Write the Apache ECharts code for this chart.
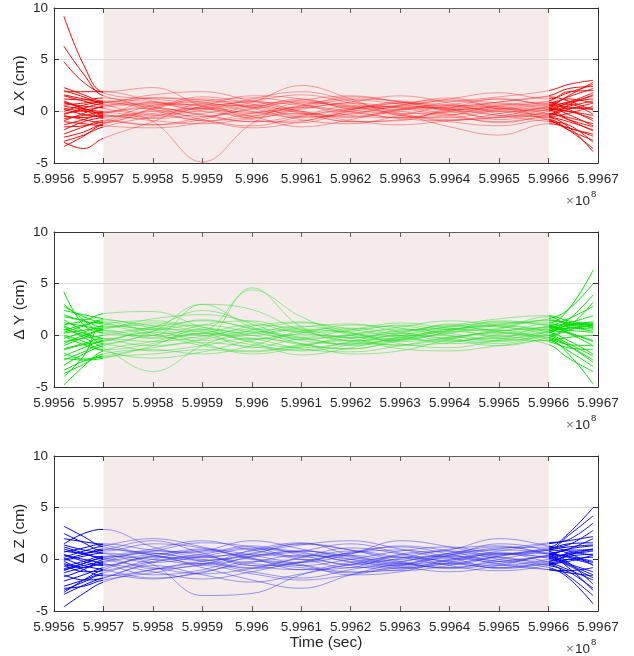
<!DOCTYPE html>
<html>
<head>
<meta charset="utf-8">
<script src="https://cdn.jsdelivr.net/npm/echarts@6/dist/echarts.min.js"></script>
<style>html,body{margin:0;padding:0;background:#fff}#c{width:634px;height:656px}</style>
</head>
<body>
<div id="c"></div>
<script>
// sample times (seconds)
const times = [599562000, 599566000, 599570000, 599580000, 599590000, 599600000, 599610000, 599620000, 599630000, 599640000, 599650000, 599660000, 599664000, 599669000];
const xTicks = [599560000, 599670000, 10000];
const fitStart = 599570000, fitEnd = 599660000;
const yLabels = ['Δ X (cm)', 'Δ Y (cm)', 'Δ Z (cm)'];

const dX = [
 [9.2, 4.5, 1.8, 1.2, 0.8, 0.5, 1.0, 0.6, 0.2, 0.4, 0.9, 1.5, 2.2, 2.4],
 [6.3, 3.6, 1.5, 0.9, 0.3, -0.2, 0.4, 1.1, 0.7, 0.1, 0.5, 1.0, 1.9, 2.0],
 [4.8, 2.8, 1.9, 2.3, 0.5, -0.6, 0.2, 0.8, 0.3, -0.3, 0.2, 0.6, 0.9, 1.8],
 [2.3, 1.6, 0.9, 0.4, -0.8, -1.4, -0.5, 0.3, 0.5, 0.2, -0.4, -0.6, -1.5, -3.9],
 [1.9, 1.9, 1.9, 1.0, 0.2, 0.9, 2.5, 1.2, -0.4, -0.6, 0.1, 0.4, 0.9, 1.2],
 [1.5, 1.0, 0.6, 1.3, 1.1, 0.4, -0.3, 0.2, 0.8, 0.6, 0.0, 0.1, -0.8, -1.9],
 [0.8, 0.5, 0.3, -1.0, -4.9, -1.2, 0.8, 0.5, -0.2, -0.1, 0.3, 0.8, 1.2, 0.8],
 [0.5, 0.2, 0.0, 0.6, 1.0, 1.3, 0.7, -0.4, -0.6, 0.1, 0.7, 0.2, 0.0, -0.4],
 [0.2, -0.3, -0.5, 0.0, 0.3, -0.5, -1.5, -0.8, 0.2, 0.6, 0.3, -0.2, -0.6, -1.2],
 [-0.2, 0.1, 0.4, 0.7, 0.0, -0.4, 0.3, 0.9, 1.5, 0.8, -0.2, -0.5, -0.2, 0.5],
 [-0.5, -0.6, -0.4, -0.9, -1.2, -0.7, -0.2, -0.9, -1.3, -0.9, -0.6, 0.2, 0.8, 1.5],
 [-0.9, -0.2, 0.5, 0.8, 0.6, 1.0, 1.6, 0.8, 0.0, -0.5, -1.0, -0.6, -1.0, -1.8],
 [-1.3, -0.8, -0.2, 0.3, -0.3, -1.0, -0.4, 0.5, 0.4, -0.3, -1.1, -0.3, 0.3, 0.2],
 [-1.8, -1.0, -0.6, -0.2, 0.4, 0.9, 0.6, 0.0, -0.7, -0.9, -0.2, 0.5, 1.5, 2.8],
 [-2.2, -1.5, -0.9, -1.3, -0.6, 0.2, 0.9, 0.4, -0.3, -1.5, -2.3, -1.2, -1.6, -2.4],
 [-2.9, -2.3, -1.5, -0.5, 0.3, 0.6, -0.2, -1.0, -0.8, 0.0, 0.6, 0.9, 0.2, -0.9],
 [-3.0, -3.6, -2.6, -1.0, 0.8, 1.0, 0.0, -0.5, 0.2, 0.4, 0.0, -0.8, -1.8, -2.8],
 [-3.4, -2.4, -1.2, 0.2, 1.2, 0.3, -0.8, -1.2, -0.4, 0.6, 1.2, 0.6, 0.4, 0.3],
 [0.3, 0.0, -0.1, 0.9, 0.5, -0.1, 0.5, 1.4, 0.9, 0.2, 0.3, 0.1, 0.5, 1.0],
 [1.2, 1.1, 1.3, 0.2, -0.5, 0.3, 1.2, 0.3, 0.5, 1.2, 1.8, 1.2, 1.8, 2.6],
 [-1.0, -1.2, -1.4, -1.6, -1.1, -0.2, 0.4, -0.1, -0.6, -0.4, 0.5, -0.9, -1.6, -2.2],
 [0.6, 0.8, 1.0, 0.5, -0.4, -1.0, -0.9, 0.2, 0.8, 1.1, 0.8, 0.4, -0.3, -1.4],
 [-0.3, 0.3, 0.8, 1.3, 0.9, 0.0, -0.6, -0.2, 0.4, 0.3, -0.4, -1.0, -1.3, -3.0],
 [1.0, 0.3, -0.3, -0.7, -0.2, 0.6, 1.1, 1.5, 0.9, 0.2, -0.8, 0.0, 0.7, -0.3],
 [1.6, 1.2, 0.9, 1.6, 1.9, 1.0, 0.0, -0.6, 0.1, 0.9, 1.4, 2.0, 2.6, 3.0],
 [-0.7, -0.4, -0.1, -0.6, 0.5, 1.5, 1.2, 0.2, -0.4, -1.0, -1.4, -0.8, -1.8, -3.6],
 [0.0, 0.6, 0.9, 0.1, -0.9, -0.5, 0.6, 1.2, 1.0, 0.5, 0.9, 1.4, 1.0, 0.1],
 [-1.5, -1.4, -1.0, 0.5, 0.7, -0.8, -1.1, 0.1, 0.9, 0.0, -0.6, -0.2, -0.8, -1.5],
 [2.0, 1.4, 0.7, -0.3, 0.1, 1.2, 1.9, 1.0, -0.2, -0.8, -0.5, 0.3, 0.0, -0.7],
 [-2.5, -2.0, -1.2, -0.4, -0.9, -1.6, -1.0, 0.0, 0.6, 1.0, 0.4, -0.4, 0.6, 1.6],
 [0.9, 0.2, -0.7, -1.3, -0.8, 0.4, -0.1, -1.0, -0.9, 0.3, 1.2, 0.7, 1.4, 2.2],
 [-0.4, -0.8, -1.1, 0.3, 1.4, 0.7, -0.5, -0.3, 0.6, 1.3, 0.2, -0.3, 0.2, 0.8]
];
const dY = [
 [4.2, 1.0, 0.3, 0.8, 1.4, 0.7, -0.3, 0.0, 0.4, 0.8, 1.3, 1.2, 2.5, 6.3],
 [2.8, 1.8, 1.2, 0.5, -0.3, 4.6, 0.8, -0.5, -0.2, 0.6, 1.0, 1.6, 2.5, 5.0],
 [2.0, 1.5, 2.1, 2.3, 0.8, 0.0, 0.6, 0.2, -0.6, -0.2, 0.4, 0.9, 1.6, 2.8],
 [1.5, 0.4, -0.8, 0.4, 3.0, 2.5, 0.5, -0.2, 0.3, 1.0, 0.5, 0.8, 1.2, 1.9],
 [1.0, 1.3, 1.1, 0.6, 1.5, 0.6, -0.8, -1.3, -0.4, 0.5, 1.0, 0.5, 0.2, -0.6],
 [0.8, -0.2, -1.2, -3.5, -1.0, 0.5, 1.2, 0.6, -0.2, -0.6, 0.1, 0.7, 1.1, 1.1],
 [0.5, 1.0, 1.3, 0.2, -1.0, -1.5, -0.9, -0.3, 0.2, -0.4, -1.0, -0.2, 0.5, 1.0],
 [0.2, 0.5, 0.7, 1.2, 0.6, -0.4, 0.2, 1.0, 0.7, -0.1, -0.3, 0.4, 1.0, 1.3],
 [-0.3, 0.3, 0.9, 0.0, -0.5, 0.2, 0.9, 0.2, -0.8, -1.2, -0.5, 0.0, -0.8, -2.0],
 [-0.6, -0.3, 0.0, 0.8, 2.4, 1.1, -0.5, -0.8, -0.3, 0.5, 1.2, 1.0, 0.3, -0.5],
 [-1.0, -0.2, 0.6, 1.0, 0.5, 4.4, 1.8, 0.0, -0.5, 0.3, 0.7, 1.8, 1.0, 0.8],
 [-1.3, -0.8, -0.3, -0.6, -0.1, 0.6, 0.3, -0.6, -0.9, -0.3, 0.6, 1.5, 1.2, 0.9],
 [-1.7, -2.3, -2.0, -1.2, -0.7, -1.1, -1.5, -0.9, 0.2, 0.9, 0.3, -0.4, -1.5, -3.0],
 [-2.0, -1.2, -0.5, 0.4, 1.0, 0.3, -0.4, 0.1, 0.8, 1.4, 0.9, 0.0, -1.0, -2.6],
 [-2.4, -1.6, -0.9, -1.5, -1.0, -0.3, -0.8, -1.8, -1.5, -0.4, 0.3, -0.6, -1.2, -1.4],
 [-2.9, -1.8, -1.0, 0.0, 0.4, -0.6, -1.2, -0.7, 0.0, -0.3, -0.8, 0.2, 1.0, 1.2],
 [-3.4, -2.5, -2.1, -1.8, -1.4, -1.6, -1.0, -0.5, -1.3, -1.5, -1.0, -0.5, -1.8, -4.7],
 [-4.0, -2.0, 1.0, 1.4, 0.8, 0.2, 0.8, 1.1, 0.3, -0.5, -0.2, 0.6, 0.9, 1.1],
 [-4.8, -3.0, -1.5, -0.6, 0.2, -0.7, -1.9, -1.2, -0.2, 0.4, 0.0, 0.3, 0.7, 0.6],
 [1.2, 0.9, 0.5, -0.3, 0.2, 1.0, 0.6, -0.2, 0.0, 0.9, 1.6, 1.9, 1.4, 1.0],
 [0.0, -0.6, -1.5, -2.2, -1.6, -0.5, 0.1, -0.3, -1.0, -0.7, -0.1, -0.9, -2.2, -3.5],
 [2.4, 2.0, 1.6, 0.9, 0.0, -0.9, -1.4, -0.6, 0.5, 0.6, -0.3, -0.5, -0.2, 0.0],
 [-0.8, 0.0, 0.5, -0.2, 1.0, 1.4, 0.4, 0.6, 1.2, 0.7, 0.4, 1.1, 0.8, 0.4],
 [0.6, 0.0, -0.5, 0.6, 0.3, -1.2, -0.4, -1.0, -0.4, 0.2, 0.9, 0.3, -0.5, -1.8],
 [1.8, 1.4, 0.8, 1.6, 2.0, 1.3, 0.3, 0.4, 1.0, 0.6, 1.1, 1.4, 1.2, 0.7],
 [-1.4, -0.9, -0.6, 0.3, -0.8, -1.8, -1.1, 0.0, 0.6, 0.2, -0.5, 0.0, 0.8, 3.2],
 [0.3, 0.9, 1.5, 0.7, 0.0, 0.9, 1.3, 0.3, -0.4, 0.4, 1.4, 0.9, 0.2, -1.0],
 [-2.2, -2.4, -2.2, -1.0, 0.6, 0.0, -0.9, -1.3, -0.5, 0.6, 0.5, -0.3, -0.9, -1.0],
 [0.9, 0.2, -0.3, -1.0, -0.4, 0.4, -0.2, -0.9, -0.1, 1.1, 0.8, 0.5, 0.7, 0.9],
 [3.0, 1.5, 0.2, 0.0, 3.0, 0.8, -0.2, 0.5, 0.9, 0.0, -0.6, 0.4, 1.5, 3.9],
 [-0.1, -0.9, -1.4, -0.8, 0.2, -0.3, -1.3, -1.6, -1.0, -0.2, 0.2, -0.2, -1.0, -2.4],
 [-3.7, -2.8, -1.8, -1.4, -1.8, -1.0, 0.4, 0.7, 0.0, -0.8, -0.4, 0.8, 0.5, 0.3]
];
const dZ = [
 [3.2, 2.2, 1.2, 0.6, 0.2, 0.8, 1.5, 0.9, 0.2, 0.5, 1.1, 1.2, 2.5, 5.0],
 [2.5, 1.6, 0.8, 1.5, 1.1, 0.0, -0.6, 0.0, 0.8, 1.2, 0.6, 0.9, 2.3, 4.2],
 [1.5, 2.5, 2.9, 1.2, 0.3, 0.5, 0.0, -0.8, -0.5, 0.4, 1.0, 1.6, 1.9, 3.5],
 [1.0, 0.5, 0.2, 0.8, 1.6, 1.2, 0.2, 0.6, 1.3, 0.8, -0.2, 0.4, 1.0, 1.3],
 [0.5, -0.2, -0.6, 0.3, -0.8, -2.0, -2.8, -1.5, -0.3, 0.6, 0.9, 0.5, -0.4, -1.2],
 [0.2, 0.8, 1.3, 2.0, 1.2, 0.1, -0.3, 0.5, 1.8, 1.2, 0.2, -0.2, 0.3, 0.5],
 [-0.1, 0.3, 0.6, -0.5, -3.5, -3.3, -1.5, -0.5, 0.2, -0.2, -0.6, 0.0, 0.6, 1.0],
 [-0.4, -0.8, -0.3, 0.5, 0.8, 1.8, 1.0, 0.0, -0.8, -0.4, 0.3, 1.0, 1.5, 1.6],
 [-0.7, -0.2, 0.3, 0.0, -0.5, 0.2, 0.8, 1.5, 0.6, -0.3, -0.8, -0.5, -1.6, -3.5],
 [-1.0, -0.6, -0.2, 0.8, 0.4, -0.6, -1.0, -0.3, 0.4, 0.9, 2.0, 1.3, 0.8, 0.4],
 [-1.3, -0.8, -0.5, -1.2, -1.9, -1.2, -0.2, 0.4, -0.3, -0.8, -0.2, 0.2, -0.5, -1.5],
 [-1.7, -1.0, 0.0, 0.6, -0.2, -0.8, 0.2, 1.1, 0.5, -0.6, -1.1, -0.6, 0.0, 0.2],
 [-2.1, -1.5, -0.8, 0.3, 1.0, 0.4, -0.5, -1.2, -1.0, 0.0, 0.5, 0.6, 1.0, 2.0],
 [-2.6, -2.0, -1.3, -0.2, 0.5, 1.1, 0.7, -0.3, -0.9, -0.3, 0.6, -0.3, -1.0, -2.0],
 [-3.0, -2.2, -1.5, -1.9, -1.2, -0.3, 0.4, 0.0, -0.7, -1.2, -0.6, 0.3, -0.8, -3.0],
 [-3.4, -2.5, -1.8, -0.6, -1.5, -2.2, -1.4, -0.5, 0.0, 0.3, -0.2, -0.8, -1.8, -4.3],
 [-4.6, -3.3, -2.2, -1.0, -0.2, 0.3, 0.8, 0.2, -0.5, -0.1, 0.4, 0.9, 0.6, -0.6],
 [0.8, 0.6, 0.9, 1.8, 0.6, -0.6, -0.3, 0.7, 1.2, 0.5, -0.5, -1.0, -1.1, -0.8],
 [0.0, 0.5, 1.0, 0.4, -0.1, 0.5, 1.5, 0.9, -0.2, -0.9, -0.4, 0.4, 0.9, 0.9],
 [-0.2, -1.0, -1.6, -1.0, -0.4, -1.2, -1.8, -1.0, -0.2, 0.4, 1.5, 0.8, -0.3, -2.4],
 [1.2, 0.6, 0.0, -0.8, -1.4, -0.9, 0.0, -0.6, -1.1, -0.6, 0.2, -0.4, -0.2, 0.4],
 [-0.9, -0.4, 0.2, 1.0, 1.8, 0.9, 0.3, 0.8, 0.2, -0.5, 0.3, 1.1, 1.4, 2.8],
 [0.4, 0.0, -0.4, -1.5, -1.0, 0.3, 0.8, 0.3, -0.4, 0.6, 1.2, 0.6, 0.2, -0.3],
 [-1.5, -2.0, -1.8, -0.3, 0.2, -0.4, -0.8, -1.3, -0.6, 0.1, -0.4, -1.0, -1.3, -1.6],
 [2.0, 1.7, 1.4, 0.4, -0.4, 0.6, 1.4, 1.8, 1.0, 0.2, 0.8, 1.5, 1.8, 2.2],
 [-0.5, -1.2, -1.1, 0.0, 0.9, 0.1, -1.0, -0.8, 0.5, 0.8, 0.0, -0.6, -1.2, -2.8],
 [0.7, 1.1, 1.5, 0.9, 0.7, 1.3, 0.4, -0.5, 0.1, 1.0, 1.3, 0.5, 0.3, -0.2],
 [-2.8, -2.6, -2.0, -1.3, -0.6, -1.4, -2.0, -1.5, -0.8, -0.4, -0.8, -0.2, 0.4, 1.0],
 [1.4, 0.9, 0.6, -0.3, 0.3, 1.0, 0.6, -0.2, -0.6, 0.3, 0.6, 0.1, -0.6, -1.8],
 [-1.1, -0.4, 0.1, -0.9, -0.5, 0.9, 1.6, 0.4, -0.4, -0.8, 0.0, 0.9, 1.2, 1.4],
 [0.1, -0.6, -1.0, -1.8, -1.3, -0.2, -0.6, -1.5, -1.2, -0.1, 0.5, 0.3, 0.5, 0.8],
 [-3.2, -2.0, -1.0, 0.2, 0.0, -0.9, -0.3, 0.6, 0.9, 0.2, -0.9, -0.4, 0.0, -0.5]
];

const panels = [dX, dY, dZ];
const outerColors = ['#ff0000', '#00e000', '#0000ff'];
const innerColors = ['rgba(255,30,30,0.42)', 'rgba(30,225,30,0.45)', 'rgba(40,40,245,0.45)'];
const tops = [8, 232, 456];
const H = 155;
const FONT = 'Liberation Sans, Arial, Helvetica, sans-serif';
const txt = '#262626';

const grid = [], xAxis = [], yAxis = [], series = [], visualMap = [], graphic = [];
panels.forEach((lines, p) => {
  grid.push({left: 54, width: 544, top: tops[p], height: H});
  const xBase = {gridIndex: p, type: 'value', min: xTicks[0], max: xTicks[1], interval: xTicks[2],
    axisLine: {show: true, onZero: false, lineStyle: {color: '#333', width: 1}},
    axisTick: {show: true, inside: true, length: 5, lineStyle: {color: '#333'}},
    splitLine: {show: false}};
  xAxis.push(Object.assign({}, xBase, {position: 'bottom',
    axisLabel: {show: true, margin: 9, fontSize: 13.5, color: txt, fontFamily: FONT,
      formatter: v => String(+(v / 1e8).toFixed(4))},
    name: p === 2 ? 'Time (sec)' : '', nameLocation: 'middle', nameGap: 21,
    nameTextStyle: {fontSize: 15.5, color: txt, fontFamily: FONT}}));
  xAxis.push(Object.assign({}, xBase, {position: 'top', axisLabel: {show: false}}));
  const yBase = {gridIndex: p, type: 'value', min: -5, max: 10, interval: 5,
    axisLine: {show: true, onZero: false, lineStyle: {color: '#333', width: 1}},
    axisTick: {show: true, inside: true, length: 5, lineStyle: {color: '#333'}}};
  yAxis.push(Object.assign({}, yBase, {position: 'left',
    axisLabel: {show: true, margin: 6, fontSize: 13.5, color: txt, fontFamily: FONT},
    splitLine: {show: true, lineStyle: {color: '#dedede', width: 1}},
    name: yLabels[p], nameLocation: 'middle', nameGap: 26, nameMoveOverlap: false,
    nameTextStyle: {fontSize: 15.5, color: txt, fontFamily: FONT}}));
  yAxis.push(Object.assign({}, yBase, {position: 'right', axisLabel: {show: false}, splitLine: {show: false}}));

  const idx = [];
  lines.forEach((vals, i) => {
    idx.push(series.length);
    const s = {type: 'line', xAxisIndex: 2 * p, yAxisIndex: 2 * p,
      data: times.map((t, k) => [t, vals[k]]),
      smooth: 0.4, showSymbol: false, symbol: 'none', silent: true,
      lineStyle: {width: 1}, z: 3};
    if (i === 0) {
      s.markArea = {silent: true, z: 1, itemStyle: {color: 'rgba(222,190,190,0.3)'},
        data: [[{xAxis: fitStart}, {xAxis: fitEnd}]]};
    }
    series.push(s);
  });
  visualMap.push({type: 'piecewise', show: false, dimension: 0, seriesIndex: idx,
    pieces: [{lt: fitStart, color: outerColors[p]},
             {gte: fitStart, lte: fitEnd, color: innerColors[p]},
             {gt: fitEnd, color: outerColors[p]}]});

  const ly = tops[p] + H + 38;
  graphic.push({type: 'text', left: 566, top: ly - 7, style: {text: '×', fontSize: 13.5, fill: '#777', font: '13.5px ' + FONT}});
  graphic.push({type: 'text', left: 575, top: ly - 7, style: {text: '10', fontSize: 13.5, fill: txt, font: '13.5px ' + FONT}});
  graphic.push({type: 'text', left: 591, top: ly - 12, style: {text: '8', fontSize: 9.5, fill: txt, font: '9.5px ' + FONT}});
});

const chart = echarts.init(document.getElementById('c'), null, {renderer: 'canvas'});
chart.setOption({animation: false, backgroundColor: '#fff', grid, xAxis, yAxis, series, visualMap, graphic});
</script>
</body>
</html>
